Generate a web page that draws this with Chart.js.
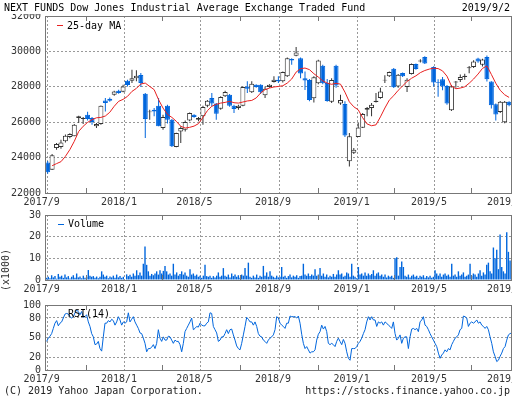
<!DOCTYPE html>
<html lang="ja">
<head>
<meta charset="UTF-8">
<title>NEXT FUNDS Dow Jones Industrial Average Exchange Traded Fund</title>
<script src="https://cdn.jsdelivr.net/npm/chart.js"></script>
<style>
  body { margin: 0; background: #fff; font-family: "DejaVu Sans Mono", monospace; font-size: 10px; color: #000; }
  #wrap { position: relative; width: 512px; height: 399px; overflow: hidden; }
  canvas { position: absolute; left: 0; }
  .txt { position: absolute; white-space: pre; line-height: 12px; }
  .dash { position: absolute; height: 1px; width: 6px; }
</style>
</head>
<body>
<div id="wrap">
  <canvas id="priceChart" width="512" height="207" style="top:0"></canvas>
  <canvas id="volChart" width="512" height="94" style="top:200px"></canvas>
  <canvas id="rsiChart" width="512" height="94" style="top:290px"></canvas>

  <div class="txt" style="left:0;top:0;width:440px;height:14px;background:#fff;"></div>
  <div class="txt" style="left:4px;top:2px;">NEXT FUNDS Dow Jones Industrial Average Exchange Traded Fund</div>
  <div class="txt" style="right:2px;top:2px;">2019/9/2</div>

  <div class="dash" style="left:57px;top:25px;background:#e82020;"></div>
  <div class="txt" style="left:67px;top:20px;">25-day MA</div>

  <div class="dash" style="left:58px;top:224px;background:#0066dd;"></div>
  <div class="txt" style="left:68px;top:218px;">Volume</div>
  <div class="txt" style="left:-15px;top:264px;width:42px;transform:rotate(-90deg);color:#333;">(x1000)</div>

  <div class="txt" style="left:68px;top:308px;">RSI(14)</div>

  <div class="txt" style="left:4px;top:385px;color:#222;">(C) 2019 Yahoo Japan Corporation.</div>
  <div class="txt" style="right:2px;top:385px;color:#222;">https://stocks.finance.yahoo.co.jp</div>
</div>

<script>
// weekly candles, one per week starting 2017/9/1 (day 0); null = market closed all week
const opens = [
  23730,23320,24540,24600,24920,25160,25200,26240,26180,26420,
  26240,25770,25900,27230,27330,27550,27780,27720,28340,28340,
  28490,28660,27610,26560,26710,26930,25670,26930,26140,24600,
  25480,25580,26100,26420,26140,26330,26930,27370,27050,26760,
  27460,27550,26930,26800,26930,28020,27690,28120,28120,27520,
  27990,28270,28400,28310,28590,29570,29760,29620,28480,28390,
  27350,28200,29190,28220,27160,29190,27050,27030,23800,24270,
  25170,25680,26710,26800,27140,27370,28360,28590,29020,28020,
  28780,27990,28720,29290,29430,29680,null,29120,28260,28430,
  28050,26670,28240,28390,28550,29050,29120,29600,29250,29690,
  28300,27010,26570,26000,27150
];
const highs = [
  23810,24200,24820,25010,25310,25370,25900,26370,26290,26590,
  26290,25950,26950,27370,27400,27780,27840,28120,28400,28960,
  28930,28780,27650,26710,26800,27370,26420,26990,26180,25400,
  25770,26100,26550,26450,26290,26930,27250,27650,27080,27460,
  27780,27600,26990,26990,28020,28310,28310,28150,28150,28020,
  28150,28590,28590,28870,29660,29620,30250,29660,28860,28440,
  28590,29530,29250,28440,28490,29250,27550,27180,25390,24540,
  25950,26520,26860,27080,27650,27950,28650,28870,29060,28720,
  28810,28490,29320,29320,29560,29720,null,29160,28430,28550,
  28100,28100,28330,28700,28740,29170,29500,29640,29580,29770,
  28320,27050,27200,27200,27180
];
const lows = [
  23090,23300,24450,24500,24860,25100,25200,25950,25900,26100,
  25860,25670,25860,26610,27150,27500,27610,27690,28020,28210,
  28310,27990,25110,26140,26330,25770,25580,25920,24600,24580,
  24820,25480,26050,26250,26050,25860,26850,26900,26140,26710,
  27420,26870,26520,26700,26900,27650,27650,27950,27600,27370,
  27950,28250,28210,28250,28550,29250,29720,28480,27820,27180,
  27120,28150,28150,27160,27080,27950,26990,25160,23500,24200,
  25160,25670,26330,26330,27120,27330,28210,28550,27930,27950,
  28550,27700,28700,28960,29370,29290,null,28010,27440,27800,
  26990,26630,27950,28270,28400,28760,29060,29360,29140,28300,
  26770,26100,26520,25940,26900
];
const closes = [
  23170,24130,24770,24860,25240,25330,25860,26330,26240,26180,
  26010,25900,26930,27080,27210,27740,27650,28020,28100,28490,
  28630,28210,26180,26610,26610,25770,26290,26140,24640,25390,
  25670,26010,26520,26290,26240,26860,27210,27050,26480,27420,
  27700,26930,26740,26930,27990,27890,28170,27990,27690,27890,
  28120,28400,28310,28830,29620,29490,29940,28750,28350,27250,
  28540,29490,28200,27200,28390,28070,27260,25250,25200,24450,
  25700,26470,26800,26990,27210,27740,28400,28830,27970,28680,
  28590,28400,29290,29000,29480,29310,null,28240,28220,28010,
  27050,28010,28300,28550,28620,29100,29430,29430,29540,28430,
  26960,26440,27150,27150,26960
];
// 25-day moving average read at each week
const ma25 = [
  null,23540,23660,23770,24070,24450,24920,25480,25770,25990,
  26140,26250,26270,26350,26560,26900,27180,27290,27460,27740,
  27910,28160,28210,28020,27840,27270,26800,26440,26270,26050,
  25770,25670,25710,25780,25920,26270,26650,26900,27010,27080,
  27120,27180,27100,27080,27140,27200,27230,27370,27650,27840,
  27930,27990,28020,28060,28210,28440,28830,29020,29060,28970,
  28740,28550,28340,28210,28140,28200,28150,27700,27150,26870,
  26700,26250,25900,25800,25850,26300,26800,27250,27500,27800,
  28050,28300,28480,28620,28800,28920,29000,29050,29030,28900,
  28600,28050,27890,27930,28000,28200,28440,28720,29040,29180,
  28700,28200,27800,27550,27400
];
// volume (x1000) and RSI(14), sampled about every other trading day
const sampleStartDay = -1.6;
const sampleStepDays = 2.63;
const volume = [
  1.0,1.5,0.8,2.2,1.2,1.8,0.6,2.8,1.5,2.0, 1.0,2.5,1.2,1.8,0.7,1.5,2.2,1.0,3.0,1.2,
  1.6,0.8,2.0,1.0,1.4,4.6,2.0,1.5,1.8,1.0, 1.6,0.8,1.5,4.0,2.5,1.5,2.0,0.8,1.6,1.2,
  2.0,1.0,2.5,1.2,1.8,1.0,1.5,0,2.6,1.8, 2.4,1.5,3.0,2.0,4.5,2.2,3.5,2.0,7.5,15.5,
  7.0,4.0,2.0,2.8,2.2,3.0,4.0,2.5,4.5,3.0, 4.2,6.5,4.0,2.5,3.0,2.0,7.5,2.5,3.5,2.0,
  2.8,4.0,2.5,3.5,2.0,1.5,5.0,2.5,3.0,2.0, 2.5,1.5,2.0,1.0,2.0,7.0,1.8,1.5,2.0,1.0,
  1.8,1.2,2.0,3.5,1.5,2.0,5.5,2.0,1.5,2.5, 1.2,3.0,1.8,2.5,1.5,2.2,1.0,2.5,2.0,5.5,
  2.0,8.0,
  1.5,1.0,2.0,1.2,2.5,1.0,2.0,1.5,6.5,2.0, 3.5,1.5,4.0,2.0,1.5,1.0,2.0,1.2,1.5,6.0,
  1.5,2.0,1.0,1.8,2.5,1.2,2.0,1.5,2.2,1.0, 1.8,2.0,7.5,2.5,2.0,3.0,1.8,2.5,2.0,5.0,
  2.0,2.5,5.5,2.0,3.0,1.5,2.5,1.2,2.0,1.5, 2.8,1.5,2.5,4.5,2.5,3.0,1.5,2.0,3.5,3.0,
  1.5,7.5,2.0,1.5,0.8,6.0,2.5,3.0,2.0,3.5, 2.0,3.0,2.2,2.8,4.5,2.0,3.0,3.5,2.0,2.5,
  1.5,2.5,1.2,2.0,1.5,2.0,1.0,10.0,10.5,2.0, 6.0,8.5,6.0,2.0,1.5,2.5,1.2,2.0,2.5,1.5,
  2.0,1.0,2.0,1.5,2.2,1.0,1.8,1.2,2.0,1.0, 1.5,4.5,3.0,2.0,3.0,1.5,2.5,3.0,2.0,2.5,
  1.5,7.5,2.0,2.5,1.5,4.0,2.0,2.5,3.5,1.5, 2.0,2.5,7.5,2.0,3.0,2.5,1.5,3.0,4.5,2.0,
  3.5,2.5,7.0,8.0,4.0,3.0,15.0,10.0,14.0,5.0, 21.0,6.0,4.0,3.0,22.0,13.0,9.0,2.0
];
const rsi14 = [
  44,49,52,56,64,72,76,68,72,74, 80,86,87,86,82,80,82,88,92,90,
  85,90,81,82,85,74,67,56,51,39, 40,44,33,29,51,72,72,76,74,78,
  76,69,74,82,77,69,74,72,74,88, 74,78,82,74,69,64,57,56,49,41,
  28,33,33,35,39,33,41,62,49,44, 51,46,46,52,51,46,41,46,44,44,
  39,28,41,59,64,69,74,80,62,64, 67,66,72,69,68,68,72,74,88,87,
  67,62,57,44,46,51,51,56,62,56, 62,63,54,46,37,33,31,41,54,67,
  81,78,
  74,74,69,74,67,56,52,51,46,44, 41,46,49,51,54,62,82,80,72,69,
  67,64,72,72,83,82,82,82,80,83, 72,55,41,33,36,31,26,28,28,31,
  46,55,59,69,63,67,59,41,39,41, 39,36,44,49,44,39,47,41,28,18,
  15,33,33,33,36,41,44,49,56,62, 74,82,77,82,77,77,67,74,72,74,
  69,74,72,69,67,64,74,56,46,49, 54,41,49,51,51,33,51,63,64,62,
  64,59,74,77,82,69,67,62,56,51, 46,41,36,26,18,23,26,31,28,33,
  31,39,44,49,51,54,62,64,83,82, 80,67,72,74,72,74,77,72,74,69,
  67,64,67,62,51,41,28,21,13,15, 21,26,33,36,46,54,56,57
];

// x axis: days since 2017/9/1, ticks on month starts
const monthDays   = [0, 61, 122, 181, 241, 303, 365, 426, 489, 546, 611, 668, 731];
const monthLabels = ['2017/9', '', '2018/1', '', '2018/5', '', '2018/9', '', '2019/1', '', '2019/5', '', '2019/9'];
const priceTicks = [22000, 24000, 26000, 28000, 30000, 32000];
const volTicks = [0, 10, 20, 30];
const rsiTicks = [0, 20, 50, 80, 100];

const BLUE = '#0066dd';
const RED = '#e82020';
const DARK = '#333';
const GRID = '#999';
const tickFont = { family: 'DejaVu Sans Mono', size: 10 };

// frame around the plot + short marks for the in-between months
const framePlugin = {
    id: 'frame',
    afterDraw(chart) {
        const { ctx, chartArea: a, scales: { x } } = chart;
        ctx.save();
        ctx.strokeStyle = '#777';
        ctx.lineWidth = 1;
        ctx.strokeRect(a.left + 0.5, a.top + 0.5, a.right - a.left, a.bottom - a.top);
        ctx.beginPath();
        monthDays.forEach((d, i) => {
            if (monthLabels[i]) return;
            const px = Math.round(x.getPixelForValue(d)) + 0.5;
            ctx.moveTo(px, a.top); ctx.lineTo(px, a.top + 5);
            ctx.moveTo(px, a.bottom); ctx.lineTo(px, a.bottom - 5);
        });
        ctx.stroke();
        ctx.restore();
    }
};

function xAxis() {
    return {
        type: 'linear', min: -4.2, max: 731, offset: false,
        afterBuildTicks: s => { s.ticks = monthDays.map(v => ({ value: v })); },
        afterFit: s => { s.height = 14; s.paddingLeft = 0; s.paddingRight = 0; },
        ticks: { autoSkip: false, maxRotation: 0, padding: 3, labelOffset: -6, color: DARK, font: tickFont,
                 callback: (v, i) => monthLabels[i] },
        grid: { offset: false, drawTicks: false, color: c => monthLabels[c.index] ? GRID : 'rgba(0,0,0,0)' },
        border: { display: false, dash: [2, 2] }
    };
}

function yAxis(min, max, ticks) {
    return {
        min: min, max: max,
        afterBuildTicks: s => { s.ticks = ticks.map(v => ({ value: v })); },
        afterFit: s => { s.width = 45; },
        ticks: { padding: 4, color: DARK, font: tickFont, callback: v => String(v) },
        grid: { drawTicks: false, color: GRID },
        border: { display: false, dash: [2, 2] }
    };
}

const baseOptions = {
    responsive: false,
    animation: false,
    devicePixelRatio: 1,
    plugins: { legend: { display: false }, tooltip: { enabled: false } }
};

// ---- price chart: candles built from floating bars
const wickData = [], wickColors = [], bodyData = [], bodyFill = [], bodyBorder = [];
opens.forEach((o, i) => {
    if (o === null) return;
    const c = closes[i];
    const up = c >= o;
    const day = i * 7;
    wickData.push({ x: day, y: [lows[i], highs[i]] });
    wickColors.push(up ? DARK : BLUE);
    bodyData.push({ x: day, y: [Math.min(o, c), Math.max(o, c)] });
    bodyFill.push(up ? '#fff' : BLUE);
    bodyBorder.push(up ? DARK : BLUE);
});
const maData = ma25.map((v, i) => ({ x: i * 7, y: v })).filter(p => p.y !== null);

new Chart(document.getElementById('priceChart'), {
    type: 'bar',
    data: {
        datasets: [
            { type: 'line', label: '25-day MA', data: maData, borderColor: RED, borderWidth: 1,
              pointRadius: 0, tension: 0, order: 0 },
            { label: 'body', data: bodyData, backgroundColor: bodyFill, borderColor: bodyBorder,
              borderWidth: 1, borderSkipped: false, barThickness: 5, grouped: false, inflateAmount: 0, order: 1 },
            { label: 'wick', data: wickData, backgroundColor: wickColors, borderWidth: 0,
              barThickness: 1, grouped: false, inflateAmount: 0, order: 2 }
        ]
    },
    options: Object.assign({}, baseOptions, {
        layout: { padding: { top: 16, right: 1, left: 0, bottom: 0 } },
        scales: { x: xAxis(), y: yAxis(22000, 32000, priceTicks) }
    }),
    plugins: [framePlugin]
});

// ---- volume
new Chart(document.getElementById('volChart'), {
    type: 'bar',
    data: {
        datasets: [{
            label: 'Volume',
            data: volume.map((v, i) => ({ x: sampleStartDay + i * sampleStepDays, y: v })),
            backgroundColor: BLUE, barThickness: 1.4, inflateAmount: 0
        }]
    },
    options: Object.assign({}, baseOptions, {
        layout: { padding: { top: 15, right: 1, left: 0, bottom: 0 } },
        scales: { x: xAxis(), y: yAxis(0, 30, volTicks) }
    }),
    plugins: [framePlugin]
});

// ---- RSI(14)
new Chart(document.getElementById('rsiChart'), {
    type: 'line',
    data: {
        datasets: [{
            label: 'RSI(14)',
            data: rsi14.map((v, i) => ({ x: sampleStartDay + i * sampleStepDays, y: v })),
            borderColor: BLUE, borderWidth: 1, pointRadius: 0, tension: 0
        }]
    },
    options: Object.assign({}, baseOptions, {
        layout: { padding: { top: 15, right: 1, left: 0, bottom: 0 } },
        scales: { x: xAxis(), y: yAxis(0, 100, rsiTicks) }
    }),
    plugins: [framePlugin]
});
</script>
</body>
</html>
